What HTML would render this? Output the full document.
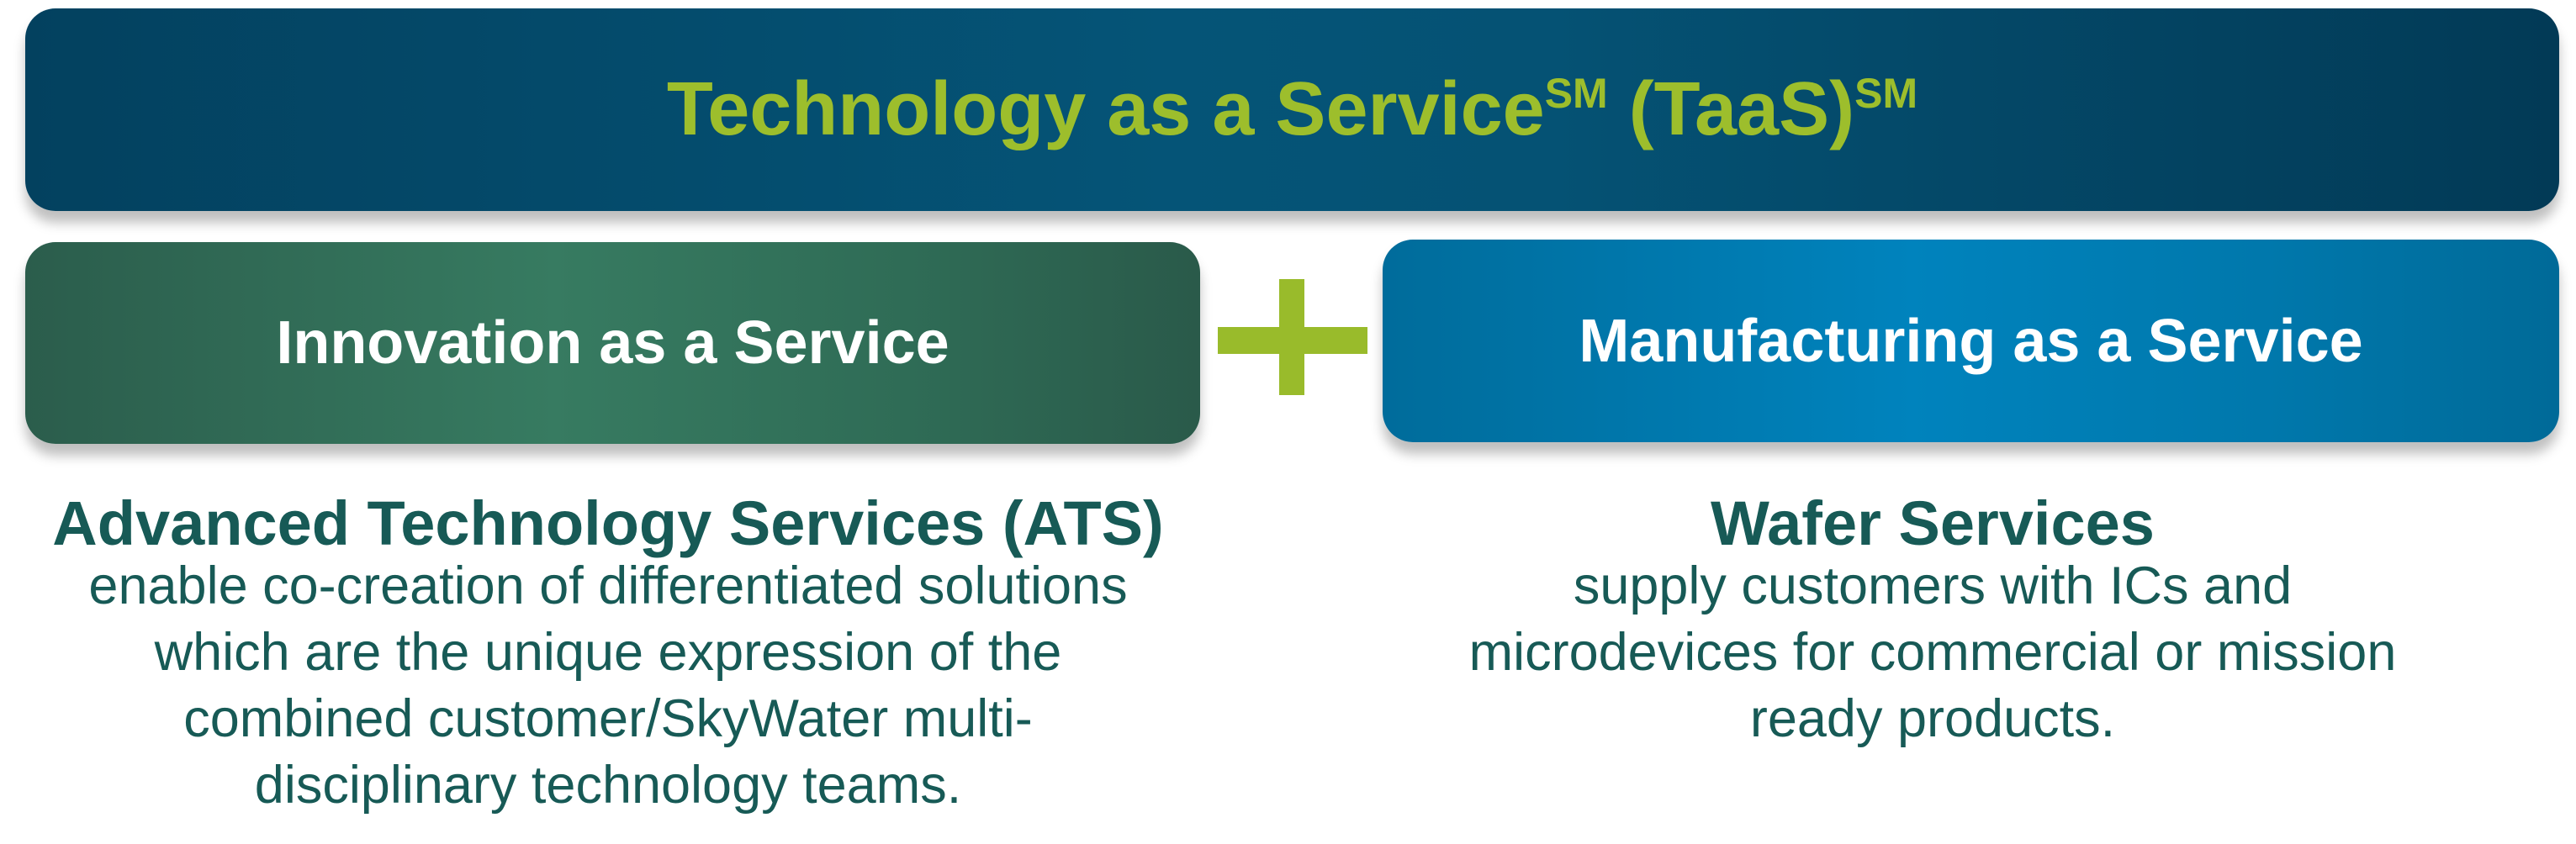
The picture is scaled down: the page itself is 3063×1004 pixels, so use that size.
<!DOCTYPE html>
<html><head><meta charset="utf-8"><style>
html,body{margin:0;padding:0;background:#fff;}
body{width:3063px;height:1004px;position:relative;overflow:hidden;font-family:"Liberation Sans",sans-serif;}
.box{position:absolute;border-radius:36px;box-shadow:0 14px 14px rgba(0,0,0,0.25);display:flex;align-items:center;justify-content:center;font-weight:bold;}
#top{left:30px;top:10px;width:3013px;height:241px;background:linear-gradient(90deg,#03415f 0%,#055477 45%,#055274 60%,#023a56 100%);color:#9dbe2c;font-size:90px;}
#top sup{font-size:50px;vertical-align:0;position:relative;top:-32px;}
#g{left:30px;top:288px;width:1397px;height:240px;background:linear-gradient(90deg,#2b5d4c 0%,#377b61 45%,#2f6c56 75%,#2a5a4a 100%);color:#fff;font-size:72px;}
#b{left:1644px;top:285px;width:1399px;height:241px;background:linear-gradient(90deg,#006c9b 0%,#0083bd 45%,#0078ac 75%,#006a98 100%);color:#fff;font-size:72px;}
.pl{position:absolute;background:#99bb2b;}
.col{position:absolute;text-align:center;color:#175a56;font-size:63px;line-height:79px;}
.col b{font-size:74px;display:block;line-height:82px;margin-bottom:-6px;}
</style></head><body>
<div class="box" id="top"><span>Technology as a Service<sup>SM</sup> (TaaS)<sup>SM</sup></span></div>
<div class="box" id="g">Innovation as a Service</div>
<div class="box" id="b">Manufacturing as a Service</div>
<div class="pl" style="left:1448px;top:389px;width:178px;height:32px;"></div>
<div class="pl" style="left:1521px;top:332px;width:30px;height:138px;"></div>
<div class="col" style="left:0;width:1446px;top:582px;"><b>Advanced Technology Services (ATS)</b>enable co-creation of differentiated solutions<br>which are the unique expression of the<br>combined customer/SkyWater multi-<br>disciplinary technology teams.</div>
<div class="col" style="left:1600px;width:1396px;top:582px;"><b>Wafer Services</b>supply customers with ICs and<br>microdevices for commercial or mission<br>ready products.</div>
</body></html>
